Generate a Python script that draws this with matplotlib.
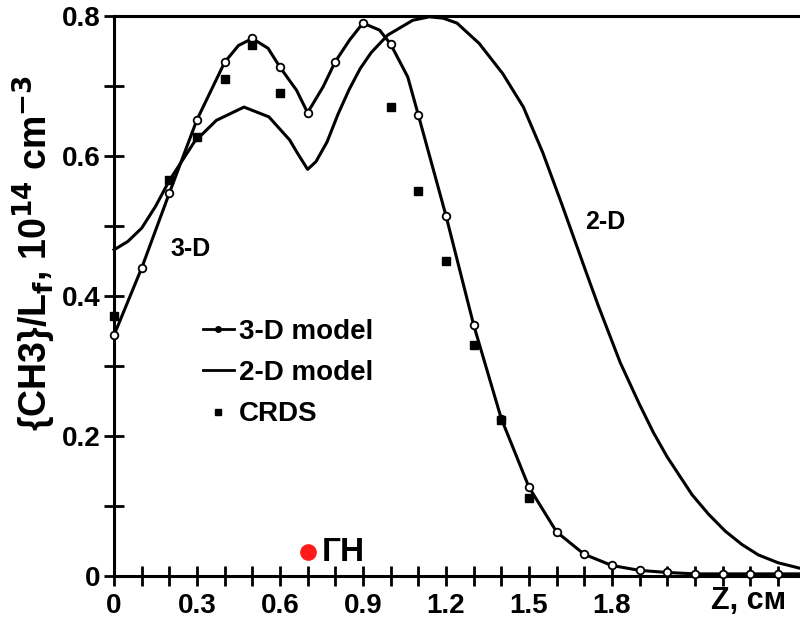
import matplotlib.pyplot as plt
from matplotlib.lines import Line2D
from matplotlib.ticker import MultipleLocator, FixedLocator

plt.rcParams['font.family'] = ['Liberation Sans', 'DejaVu Sans']
plt.rcParams['font.weight'] = 'bold'

# 3-D model: open-circle nodes every 0.1 cm
z_3d = [0.0, 0.1, 0.2, 0.3, 0.4, 0.5, 0.6, 0.7, 0.8, 0.9, 1.0, 1.1, 1.2,
        1.3, 1.4, 1.5, 1.6, 1.7, 1.8, 1.9, 2.0, 2.1, 2.2, 2.3, 2.4]
ch3_3d = [0.344, 0.440, 0.547, 0.652, 0.734, 0.768, 0.727, 0.662, 0.735, 0.790,
          0.760, 0.659, 0.515, 0.359, 0.225, 0.127, 0.063, 0.031, 0.015, 0.008,
          0.005, 0.003, 0.003, 0.003, 0.003]

# 3-D model curve, read with a few extra points between nodes
z_3d_curve = [0.0, 0.1, 0.2, 0.3, 0.4, 0.45, 0.5, 0.557, 0.6, 0.66, 0.7, 0.756,
              0.8, 0.852, 0.9, 0.96, 1.0, 1.062, 1.1, 1.2, 1.3, 1.4, 1.5, 1.6,
              1.7, 1.8, 1.9, 2.0, 2.1, 2.2, 2.3, 2.4, 2.48]
ch3_3d_curve = [0.344, 0.440, 0.547, 0.652, 0.734, 0.758, 0.768, 0.754, 0.727,
                0.694, 0.662, 0.699, 0.735, 0.766, 0.790, 0.780, 0.760, 0.713,
                0.659, 0.515, 0.359, 0.225, 0.127, 0.063, 0.031, 0.015, 0.008,
                0.005, 0.003, 0.003, 0.003, 0.003, 0.003]

# 2-D model curve
z_2d = [0.0, 0.05, 0.1, 0.15, 0.2, 0.29, 0.37, 0.47, 0.56, 0.635, 0.665, 0.70,
        0.73, 0.77, 0.81, 0.85, 0.89, 0.93, 0.99, 1.08, 1.14, 1.19, 1.24,
        1.32, 1.405, 1.48, 1.55, 1.62, 1.706, 1.75, 1.83, 1.9, 1.95, 2.0,
        2.09, 2.15, 2.21, 2.27, 2.33, 2.4, 2.48]
ch3_2d = [0.466, 0.478, 0.497, 0.528, 0.565, 0.620, 0.651, 0.670, 0.656, 0.623,
          0.603, 0.581, 0.592, 0.620, 0.660, 0.695, 0.725, 0.748, 0.773, 0.794,
          0.799, 0.797, 0.790, 0.761, 0.718, 0.670, 0.605, 0.530, 0.435, 0.387,
          0.305, 0.245, 0.205, 0.170, 0.116, 0.088, 0.064, 0.045, 0.030, 0.019,
          0.011]

# CRDS measurements
z_crds = [0.0, 0.2, 0.3, 0.4, 0.5, 0.6, 1.0, 1.1, 1.2, 1.3, 1.4, 1.5]
ch3_crds = [0.371, 0.566, 0.627, 0.710, 0.759, 0.690, 0.670, 0.550, 0.450,
            0.330, 0.223, 0.111]

# red marker "ГН"
gn_z, gn_y = 0.70, 0.034

xtick_vals = [0, 0.3, 0.6, 0.9, 1.2, 1.5, 1.8]
xtick_text = ['0', '0.3', '0.6', '0.9', '1.2', '1.5', '1.8']
ytick_vals = [0, 0.2, 0.4, 0.6, 0.8]
ytick_text = ['0', '0.2', '0.4', '0.6', '0.8']

fig = plt.figure(figsize=(8, 6.19), dpi=100)
ax = fig.add_axes([0.1425, 0.0695, 0.8575, 0.9045])

ax.plot(z_2d, ch3_2d, color='black', lw=2.2, clip_on=False, zorder=2)
ax.plot(z_3d_curve, ch3_3d_curve, color='black', lw=2.2, clip_on=False,
        zorder=3)
ax.plot(z_3d, ch3_3d, ls='none', marker='o', ms=5.5, mfc='white',
        mec='black', mew=1.3, clip_on=False, zorder=4)
ax.plot(z_crds, ch3_crds, ls='none', marker='s', ms=5.5, color='black',
        clip_on=False, zorder=5)
ax.plot([gn_z], [gn_y], ls='none', marker='o', ms=11, color='#ff1a1a',
        zorder=6)
ax.text(gn_z + 0.05, gn_y, 'ГН', fontsize=24, fontweight='bold',
        va='center', ha='left')

ax.text(0.278, 0.467, '3-D', fontsize=18, fontweight='bold',
        ha='center', va='center')
ax.text(1.776, 0.506, '2-D', fontsize=18, fontweight='bold',
        ha='center', va='center')

ax.set_xlim(0, 2.48)
ax.set_ylim(0, 0.8)

ax.spines['right'].set_visible(False)
for s in ['left', 'bottom', 'top']:
    ax.spines[s].set_linewidth(2.2)

ax.xaxis.set_major_locator(FixedLocator(xtick_vals))
ax.xaxis.set_minor_locator(MultipleLocator(0.1))
ax.yaxis.set_major_locator(FixedLocator(ytick_vals))
ax.yaxis.set_minor_locator(MultipleLocator(0.1))
ax.set_xticklabels(xtick_text)
ax.set_yticklabels(ytick_text)
ax.tick_params(which='both', direction='inout', length=15, width=2,
               top=False, right=False, labelsize=20)
ax.tick_params(axis='x', pad=5)
ax.tick_params(axis='y', pad=2)

ax.set_ylabel('{CH3}/L$_\\mathbf{f}$, 10$^{\\mathbf{14}}$ cm$^{\\mathbf{-3}}$',
              fontsize=27, fontweight='bold')
ax.yaxis.set_label_coords(-0.082, 0.577)

ax.text(2.16, -0.036, 'Z, см', fontsize=22, fontweight='bold',
        ha='left', va='center', clip_on=False)

handles = [
    Line2D([], [], color='black', lw=2, marker='o', ms=4),
    Line2D([], [], color='black', lw=2),
    Line2D([], [], ls='none', color='black', marker='s', ms=5),
]
ax.legend(handles, ['3-D model', '2-D model', 'CRDS'], loc='center left',
          bbox_to_anchor=(0.13, 0.3625), frameon=False,
          handlelength=1.1, handletextpad=0.2, labelspacing=0.55,
          borderpad=0, borderaxespad=0, prop={'weight': 'bold', 'size': 20})

fig.savefig('out.png', dpi=100)
